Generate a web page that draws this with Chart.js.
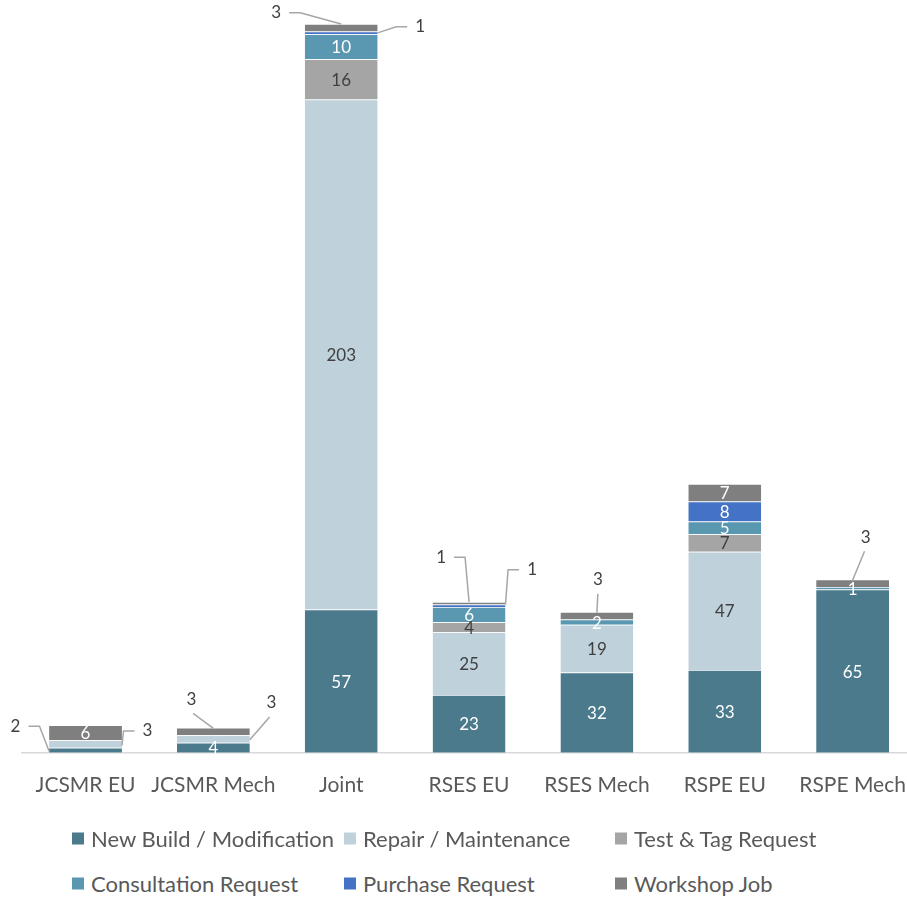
<!DOCTYPE html>
<html>
<head>
<meta charset="utf-8">
<script src="https://cdn.jsdelivr.net/npm/chart.js@4.4.1/dist/chart.umd.min.js"></script>
<style>
  html, body { margin: 0; padding: 0; background: #fff; overflow: hidden; width: 907px; height: 897px; }
  #chart { position: absolute; left: 0; top: 0; }
  .legend { position: absolute; left: 0; top: 0; width: 907px; font-family: Lato, sans-serif; font-size: 22px; color: #595959; }
  .legend-item { position: absolute; display: flex; align-items: center; white-space: nowrap; transform: translateY(-50%); }
  .legend-item span.box { width: 12px; height: 12px; margin-right: 7px; display: inline-block; }
</style>
</head>
<body>
<canvas id="chart" width="926" height="832"></canvas>
<div class="legend" id="legend"></div>
<script>
// categories and series
const categories = ['JCSMR EU', 'JCSMR Mech', 'Joint', 'RSES EU', 'RSES Mech', 'RSPE EU', 'RSPE Mech'];
const newBuild     = [2, 4, 57, 23, 32, 33, 65];
const repair       = [3, 3, 203, 25, 19, 47, 0];
const testTag      = [0, 0, 16, 4, 0, 7, 0];
const consultation = [0, 0, 10, 6, 2, 5, 1];
const purchase     = [0, 0, 1, 1, 0, 8, 0];
const workshop     = [6, 3, 3, 1, 3, 7, 3];

const seriesNames = ['New Build / Modification', 'Repair / Maintenance', 'Test & Tag Request',
  'Consultation Request', 'Purchase Request', 'Workshop Job'];
const seriesData = [newBuild, repair, testTag, consultation, purchase, workshop];
const colors = ['#4a7a8c', '#bfd1da', '#a5a5a5', '#5a97b0', '#4472c4', '#7f7f7f'];
const labelColors = ['#ffffff', '#404040', '#404040', '#ffffff', '#ffffff', '#ffffff'];

// small values drawn outside with a leader line
// ds/i: series and category; tx,ty: label offset from segment centre; ex,ey: end point on segment
const callouts = [
  { ds: 0, i: 0, tx: -70, ty: -24, ex: -1, ey: 0.4, elbow: true },
  { ds: 1, i: 0, tx: 62, ty: -13, ex: 1, ey: 0.4, elbow: true },
  { ds: 5, i: 1, tx: -22, ty: -32, ex: 0, ey: -0.8, elbow: false },
  { ds: 1, i: 1, tx: 58, ty: -36, ex: 1, ey: 0.2, elbow: false },
  { ds: 5, i: 2, tx: -65, ty: -15, ex: 0, ey: -1, elbow: true },
  { ds: 4, i: 2, tx: 79, ty: -6, ex: 1, ey: 0, elbow: true },
  { ds: 5, i: 3, tx: -28, ty: -46, ex: 0, ey: -1, elbow: true },
  { ds: 4, i: 3, tx: 63, ty: -36, ex: 1, ey: -1, elbow: true },
  { ds: 5, i: 4, tx: 1, ty: -36, ex: 0, ey: -0.8, elbow: false },
  { ds: 5, i: 6, tx: 13, ty: -46, ex: 0, ey: -0.8, elbow: false },
];

const labelPlugin = {
  id: 'segLabels',
  afterDatasetsDraw(chart) {
    const ctx = chart.ctx;
    ctx.save();
    ctx.font = '17px Lato, sans-serif';
    ctx.textAlign = 'center';
    ctx.textBaseline = 'middle';
    chart.data.datasets.forEach((ds, d) => {
      const meta = chart.getDatasetMeta(d);
      meta.data.forEach((bar, i) => {
        const v = ds.data[i];
        if (!v) return;
        const p = bar.getProps(['x', 'y', 'base', 'width'], true);
        const ym = (p.y + p.base) / 2;
        const half = (p.base - p.y) / 2;
        const co = callouts.find(c => c.ds === d && c.i === i);
        if (!co) {
          ctx.fillStyle = labelColors[d];
          ctx.fillText(String(v), p.x, ym + 1);
          return;
        }
        const lx = p.x + co.tx, ly = ym + co.ty;
        const ex = p.x + co.ex * p.width / 2, ey = ym + co.ey * half;
        ctx.strokeStyle = '#a6a6a6';
        ctx.lineWidth = 1.5;
        ctx.beginPath();
        if (co.elbow) {
          const side = ex > lx ? 1 : -1;
          const sx = lx + side * 13;
          ctx.moveTo(sx, ly);
          ctx.lineTo(sx + side * 11, ly);
        } else {
          ctx.moveTo(lx + (ex - lx) * 0.08, ly + 14);
        }
        ctx.lineTo(ex, ey);
        ctx.stroke();
        ctx.fillStyle = '#404040';
        ctx.fillText(String(v), lx, ly);
      });
    });
    ctx.restore();
  }
};

new Chart(document.getElementById('chart'), {
  type: 'bar',
  data: {
    labels: categories,
    datasets: seriesData.map((data, k) => ({
      label: seriesNames[k],
      data,
      backgroundColor: colors[k],
      borderColor: 'rgba(255,255,255,0.55)',
      borderWidth: { top: 0.75, left: 0, right: 0, bottom: 0 },
      borderSkipped: false,
      categoryPercentage: 1,
      barPercentage: 0.57,
    })),
  },
  options: {
    responsive: false,
    animation: false,
    layout: { padding: { left: 21.6, right: 1, top: 9, bottom: 14 } },
    plugins: { legend: { display: false }, tooltip: { enabled: false } },
    scales: {
      x: {
        stacked: true,
        grid: { display: false, drawTicks: false },
        border: { display: true, color: '#d9d9d9', width: 1.5 },
        ticks: { color: '#595959', font: { family: 'Lato, sans-serif', size: 21 }, padding: 20, maxRotation: 0 },
      },
      y: { stacked: true, display: false, min: 0, max: 296 },
    },
  },
  plugins: [labelPlugin],
});

// Legend, three aligned columns
const legend = document.getElementById('legend');
const colX = [72, 344, 615];
const rowY = [838, 883];
seriesNames.forEach((name, k) => {
  const item = document.createElement('div');
  item.className = 'legend-item';
  item.style.left = colX[k % 3] + 'px';
  item.style.top = rowY[Math.floor(k / 3)] + 'px';
  const box = document.createElement('span');
  box.className = 'box';
  box.style.background = colors[k];
  item.appendChild(box);
  item.appendChild(document.createTextNode(name));
  legend.appendChild(item);
});
</script>
</body>
</html>
